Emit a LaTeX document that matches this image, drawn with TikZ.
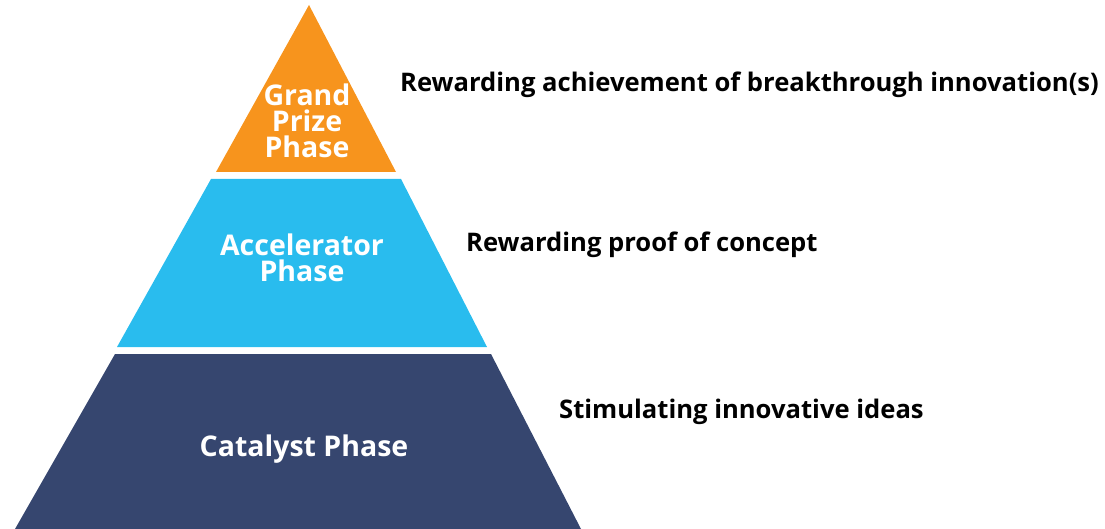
\documentclass[tikz,border=0pt]{standalone}
\usepackage{fontspec}
\setmainfont{Open Sans}
\usepackage{xcolor}
\usepackage{tikz}

\definecolor{grandorange}{HTML}{F7941D}
\definecolor{accelblue}{HTML}{29BCEE}
\definecolor{catalystnavy}{HTML}{36466F}

\tikzset{
  phaselabel/.style={white,font=\bfseries\fontsize{28.5}{26}\selectfont,align=center,inner sep=0pt},
  goallabel/.style={black,font=\bfseries\fontsize{25.6}{28}\selectfont,anchor=west,inner sep=0pt},
}

\begin{document}
\begin{tikzpicture}[x=1pt,y=-1pt]
\useasboundingbox (0,0) rectangle (1105,529);

% Grand prize tier (top)
\fill[grandorange] (309,5) -- (396,172) -- (216,172) -- cycle;
\node[phaselabel] (grand) at (307,121) {Grand\\Prize\\Phase};

% Accelerator tier (middle)
\fill[accelblue] (211,179) -- (401,179) -- (487,347) -- (117,347) -- cycle;
\node[phaselabel] (accel) at (302,258) {Accelerator\\Phase};

% Catalyst tier (bottom)
\fill[catalystnavy] (115,354) -- (491,354) -- (581,529) -- (15,529) -- cycle;
\node[phaselabel] (catalyst) at (304,449) {Catalyst Phase};

% Goals of each phase
\node[goallabel] (goalgrand) at (400,85) {Rewarding achievement of breakthrough innovation(s)};
\node[goallabel] (goalaccel) at (466,245) {Rewarding proof of concept};
\node[goallabel] (goalcat) at (559,412) {Stimulating innovative ideas};

\end{tikzpicture}
\end{document}
